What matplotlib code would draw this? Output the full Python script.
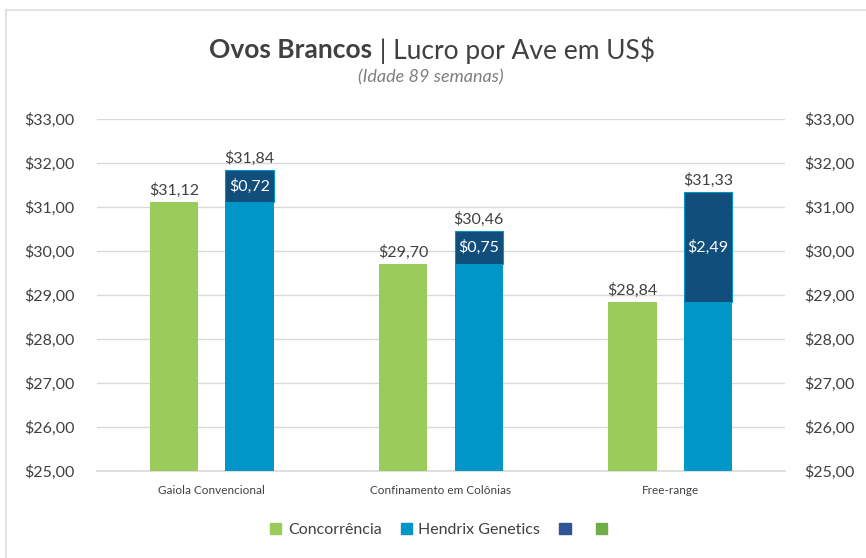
import matplotlib
matplotlib.use("Agg")
import matplotlib.pyplot as plt
from matplotlib.patches import Patch
from matplotlib.lines import Line2D
import numpy as np

categories = ["Gaiola Convencional", "Confinamento em Colônias", "Free-range"]
concorrencia = [31.12, 29.70, 28.84]
hendrix = [31.84, 30.46, 31.33]
diferenca = [0.72, 0.75, 2.49]
yticks = [25, 26, 27, 28, 29, 30, 31, 32, 33]

GREEN = "#9BCB5A"
BLUE = "#0096C8"
DARK = "#124E7C"
TXT = "#404040"
GRID = "#D9D9D9"

plt.rcParams['font.family'] = ['Lato', 'DejaVu Sans']

fig = plt.figure(figsize=(8.66, 5.58), dpi=100)
ax = fig.add_axes([97/866, 1-471/558, (785-97)/866, (471-119)/558])

x = np.arange(len(categories))
w = 0.21
off = 0.165

def fmt(v):
    return "$" + f"{v:.2f}".replace(".", ",")

ax.bar(x - off, concorrencia, w, bottom=0, color=GREEN, zorder=3)
ax.bar(x + off, concorrencia, w, color=BLUE, zorder=3)
ax.bar(x + off, diferenca, w, bottom=concorrencia, color=DARK, edgecolor=BLUE, linewidth=0.8, zorder=3)

for i in range(len(categories)):
    ax.annotate(fmt(concorrencia[i]), (x[i] - off, concorrencia[i]), xytext=(0, 3),
                textcoords="offset points", ha="center", va="bottom", fontsize=11.5, color=TXT)
    ax.annotate(fmt(hendrix[i]), (x[i] + off, concorrencia[i] + diferenca[i]), xytext=(0, 3),
                textcoords="offset points", ha="center", va="bottom", fontsize=11.5, color=TXT)
    ax.text(x[i] + off, concorrencia[i] + diferenca[i] / 2, fmt(diferenca[i]), ha="center", va="center",
            fontsize=11.5, color="white", zorder=4)

ax.set_ylim(25, 33)
ax.set_xlim(-0.5, len(categories) - 0.5)
ax.set_yticks(yticks)
ax.set_yticklabels([fmt(v) for v in yticks])
ax.set_xticks(x)
ax.set_xticklabels(categories, fontsize=8.5, color=TXT)
ax.tick_params(axis="x", length=0, pad=10)
ax.tick_params(axis="y", length=0, pad=16, labelsize=11.5, labelcolor=TXT)
ax.yaxis.grid(True, color=GRID, linewidth=1, zorder=0)
for s in ["top", "right", "left"]:
    ax.spines[s].set_visible(False)
ax.spines["bottom"].set_color(GRID)
ax.spines["bottom"].set_linewidth(1.2)

ax2 = ax.twinx()
ax2.set_ylim(25, 33)
ax2.set_yticks(yticks)
ax2.set_yticklabels([fmt(v) for v in yticks])
ax2.tick_params(axis="y", length=0, pad=14, labelsize=11.5, labelcolor=TXT)
for s in ["top", "right", "left", "bottom"]:
    ax2.spines[s].set_visible(False)

# Title (bold + regular parts)
fig.canvas.draw()
r = fig.canvas.get_renderer()
t1 = fig.text(0, 50/558, "Ovos Brancos", fontsize=19, fontweight="bold", color=TXT, va="center")
t2 = fig.text(0, 50/558, " | Lucro por Ave em US$", fontsize=19, color=TXT, va="center")
w1 = t1.get_window_extent(r).width
w2 = t2.get_window_extent(r).width
cx = 432
start = cx - (w1 + w2) / 2
t1.set_x(start / 866)
t2.set_x((start + w1) / 866)
t1.set_y(1 - 50/558)
t2.set_y(1 - 50/558)
fig.text(431/866, 1 - 77/558, "(Idade 89 semanas)", fontsize=13, style="italic", color="#7F7F7F",
         ha="center", va="center")

handles = [Patch(color=GREEN), Patch(color=BLUE), Patch(color="#2F5597"), Patch(color="#70AD47")]
labels = ["Concorrência", "Hendrix Genetics", "", ""]
fig.legend(handles, labels, loc="center", bbox_to_anchor=(442/866, 1 - 530/558), ncol=4, frameon=False,
           fontsize=11.5, handlelength=0.7, handleheight=0.7, handletextpad=0.4, columnspacing=1.2,
           labelcolor=TXT)

# figure border
fig.add_artist(Line2D([6/866, 6/866], [0, 1 - 10/558], color="#E3E3E3", lw=1.5, transform=fig.transFigure))
fig.add_artist(Line2D([6/866, 865/866], [1 - 10/558, 1 - 10/558], color="#E3E3E3", lw=1.5, transform=fig.transFigure))

fig.savefig("out.png", dpi=100)
